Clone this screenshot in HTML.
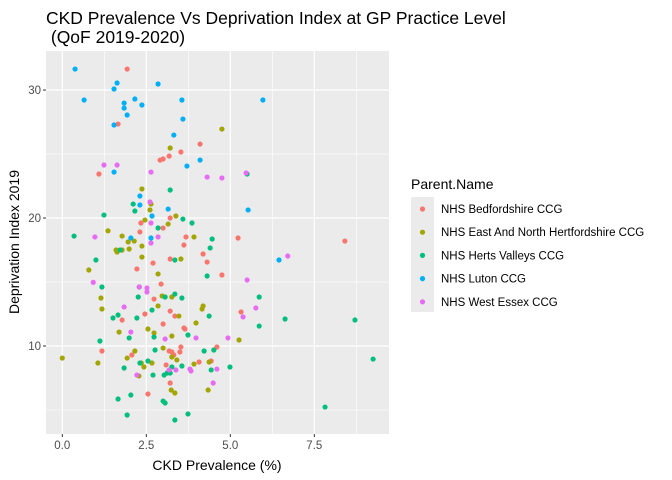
<!DOCTYPE html>
<html><head><meta charset="utf-8"><style>
body{margin:0;background:#fff;}
svg{display:block;font-family:"Liberation Sans",Arial,sans-serif;}
</style></head><body>
<svg id="chart" width="672" height="480">
<text x="46" y="24" font-size="17.5" fill="#000">CKD Prevalence Vs Deprivation Index at GP Practice Level</text>
<text x="46" y="43" font-size="17.5" fill="#000" xml:space="preserve"> (QoF 2019-2020)</text>
<rect x="46" y="51" width="343" height="383" fill="#EBEBEB"/>
<g id="grid"></g>
<g id="axes"></g>
<g id="points"></g>
<text x="217" y="470" font-size="14" text-anchor="middle" fill="#000">CKD Prevalence (%)</text>
<text transform="translate(19,242) rotate(-90)" font-size="14" text-anchor="middle" fill="#000">Deprivation Index 2019</text>
<g id="legend">
<text x="411" y="189" font-size="14" fill="#000">Parent.Name</text>
<rect x="411" y="197" width="23" height="115" fill="#EBEBEB"/>
</g>
</svg>
<script>
const xTicks=[0,2.5,5,7.5];
const xTickLabels=["0.0","2.5","5.0","7.5"];
const yTicks=[10,20,30];
const yTickLabels=["10","20","30"];
const groups=["NHS Bedfordshire CCG","NHS East And North Hertfordshire CCG","NHS Herts Valleys CCG","NHS Luton CCG","NHS West Essex CCG"];
const colors=["#F8766D","#A3A500","#00BF7D","#00B0F6","#E76BF3"];
const bedsX=[1.93,1.66,4.10,3.53,3.18,3.00,2.91,1.09,3.21,2.34,2.31,3.00,3.68,3.62,2.70,3.21,4.19,4.31,2.22,2.94,2.73,3.21,2.46,3.35,1.78,3.00,3.62,3.65,1.18,2.07,3.18,3.26,3.32,3.53,3.50,3.09,4.07,4.60,4.43,3.21,2.55,5.23,8.41,4.75,5.32];
const bedsY=[31.64,27.34,25.78,25.16,24.84,24.61,24.53,23.44,20.0,19.61,18.91,19.22,18.52,17.89,16.48,16.80,17.19,16.56,16.02,14.84,13.67,12.73,12.50,12.34,12.03,11.72,11.41,11.33,9.61,9.30,9.61,9.53,9.30,9.92,9.53,8.52,8.75,9.92,8.83,7.11,6.25,18.44,18.20,15.55,12.66];
const enhX=[3.21,2.37,2.64,2.61,3.38,2.46,3.15,4.75,1.36,1.78,1.96,2.14,2.37,1.60,1.63,1.78,1.99,3.92,2.37,3.53,0.79,2.85,1.15,2.97,3.26,2.85,4.19,4.16,1.18,3.47,3.98,2.55,1.69,2.73,3.26,0.0,2.16,1.93,3.00,3.26,3.41,1.06,2.35,2.67,2.43,3.92,4.37,2.28,3.24,3.35,4.34,5.26];
const enhY=[25.47,22.27,21.09,20.63,20.16,19.84,19.53,26.95,19.0,18.59,18.13,18.20,17.81,17.5,17.34,17.5,17.58,18.52,16.95,16.80,15.94,15.63,13.75,13.91,13.83,13.13,13.13,12.89,12.89,12.34,11.80,11.33,11.09,11.02,10.78,9.06,9.61,9.06,9.84,9.14,8.91,8.67,8.67,8.67,8.36,8.59,8.75,7.66,6.56,6.33,6.56,10.47];
const hvX=[3.21,2.11,2.16,1.24,3.59,3.86,5.50,0.35,2.85,1.72,4.46,4.40,1.00,3.35,4.31,1.18,2.29,2.26,3.35,3.06,3.56,2.67,1.66,1.51,2.22,4.37,2.73,1.99,3.74,1.12,2.76,1.84,2.31,2.55,3.26,3.56,4.22,4.51,4.43,3.03,3.12,3.21,2.70,1.66,2.04,3.00,3.06,1.93,3.35,3.74,5.86,5.86,6.63,8.71,4.99,9.25,7.82];
const hvY=[22.19,21.09,20.55,20.23,19.92,19.61,23.44,18.59,19.22,17.5,18.36,17.66,16.72,16.72,15.47,14.61,14.61,13.83,14.06,13.83,13.75,12.81,12.42,12.19,12.19,12.34,10.70,10.63,10.86,10.39,9.69,8.28,8.67,8.83,8.36,8.44,9.61,9.69,8.13,7.73,7.89,7.89,7.73,5.86,6.17,5.70,5.55,4.61,4.22,4.69,13.83,11.56,12.11,12.03,8.36,8.98,5.23];
const lutonX=[0.38,1.63,1.54,2.85,0.65,1.84,1.84,2.16,2.37,1.93,3.56,1.54,3.59,3.32,4.10,3.71,1.54,2.31,2.31,3.15,2.67,2.04,2.64,5.97,5.53,6.45];
const lutonY=[31.64,30.55,30.08,30.47,29.22,28.98,28.59,29.30,28.83,28.05,29.22,27.27,27.73,26.48,24.53,24.06,23.59,21.72,21.02,20.70,20.16,18.44,18.44,29.22,20.63,16.72];
const weX=[1.24,1.63,2.64,4.31,2.61,2.64,4.75,5.47,0.97,2.85,2.64,0.92,2.29,2.52,2.52,1.84,2.04,3.06,3.98,3.18,3.38,3.80,3.83,4.60,2.22,4.49,6.71,5.50,5.76,5.38,4.93];
const weY=[24.14,24.14,23.59,23.20,21.25,19.61,23.13,23.52,18.52,18.52,18.05,14.97,14.61,14.53,14.22,13.05,11.09,10.55,10.63,8.13,8.13,8.20,8.05,8.20,7.73,7.11,17.03,15.16,12.97,12.27,10.63];
const seriesX=[bedsX,enhX,hvX,lutonX,weX];
const seriesY=[bedsY,enhY,hvY,lutonY,weY];

const NS="http://www.w3.org/2000/svg";
const X0=46,X1=389,Y0=51,Y1=434;
const xMin=-0.485,xMax=9.723,yMin=3.125,yMax=33.05;
function sx(v){return X0+(v-xMin)/(xMax-xMin)*(X1-X0);}
function sy(v){return Y1-(v-yMin)/(yMax-yMin)*(Y1-Y0);}
function mk(tag,attrs,parent){const e=document.createElementNS(NS,tag);for(const k in attrs)e.setAttribute(k,attrs[k]);parent.appendChild(e);return e;}
const grid=document.getElementById('grid'),axes=document.getElementById('axes'),pts=document.getElementById('points');
for(let i=0;i<xTicks.length;i++){const m=xTicks[i]+1.25;if(sx(m)<X1){const l=mk('line',{x1:sx(m),x2:sx(m),y1:Y0,y2:Y1,stroke:'#fff','stroke-width':0.6},grid);

}}
[5,15,25].forEach(m=>{const l=mk('line',{x1:X0,x2:X1,y1:sy(m),y2:sy(m),stroke:'#fff','stroke-width':0.6},grid);

});
xTicks.forEach((t,i)=>{const l=mk('line',{x1:sx(t),x2:sx(t),y1:Y0,y2:Y1,stroke:'#fff','stroke-width':1.2},grid);


const tk=mk('line',{x1:sx(t),x2:sx(t),y1:Y1,y2:Y1+3,stroke:'#333','stroke-width':1},axes);


const tx=mk('text',{x:sx(t),y:Y1+15,'font-size':11.5,'text-anchor':'middle',fill:'#4D4D4D'},axes);tx.textContent=xTickLabels[i];

});
yTicks.forEach((t,i)=>{const l=mk('line',{x1:X0,x2:X1,y1:sy(t),y2:sy(t),stroke:'#fff','stroke-width':1.2},grid);


const tk=mk('line',{x1:X0-3,x2:X0,y1:sy(t),y2:sy(t),stroke:'#333','stroke-width':1},axes);


const tx=mk('text',{x:X0-5,y:sy(t)+4,'font-size':11.5,'text-anchor':'end',fill:'#4D4D4D'},axes);tx.textContent=yTickLabels[i];

});
seriesX.forEach((xs,g)=>{xs.forEach((xv,i)=>{const c=mk('circle',{cx:sx(xv),cy:sy(seriesY[g][i]),r:2.6,fill:colors[g]},pts);

});});
const leg=document.getElementById('legend');
groups.forEach((n,i)=>{const y=209+i*23.2;
const c=mk('circle',{cx:422.5,cy:y,r:2.6,fill:colors[i]},leg);


const t=mk('text',{x:441,y:y+4,'font-size':11.5,fill:'#000'},leg);t.textContent=n;

});
</script>
</body></html>
